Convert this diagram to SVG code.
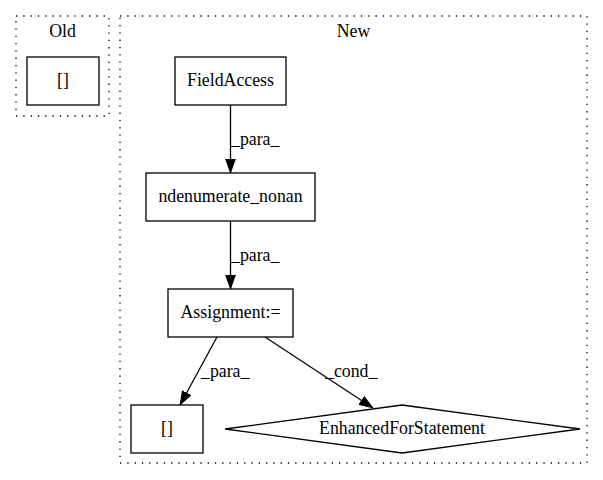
<svg xmlns="http://www.w3.org/2000/svg" width="603" height="480" viewBox="0 0 603 480">
<style>
text{font-family:"Liberation Serif","Times New Roman",serif;font-size:17.8px;fill:#000}
.c{text-anchor:middle}
.cl{fill:none;stroke:#000;stroke-width:1.3;stroke-dasharray:1.3,6}
.n{fill:#fff;stroke:#000;stroke-width:1.3}
.e{fill:none;stroke:#000;stroke-width:1.3}
</style>
<defs>
<marker id="ah" markerUnits="userSpaceOnUse" markerWidth="14" markerHeight="11" refX="13" refY="4.75" orient="auto" viewBox="0 0 13 9.5">
<path d="M0.5,0.5 L12.5,4.75 L0.5,9 Z" fill="#000" stroke="#000"/>
</marker>
</defs>
<rect width="603" height="480" fill="#fff"/>
<g id="cluster_old">
<rect class="cl" x="16" y="16" width="93" height="100"/>
<text class="c" x="62.5" y="37">Old</text>
</g>
<g id="cluster_new">
<rect class="cl" x="120" y="16" width="467" height="447"/>
<text class="c" x="353.5" y="37">New</text>
</g>
<g id="old_brackets">
<rect class="n" x="27" y="57" width="72" height="48"/>
<text class="c" x="63" y="86">[]</text>
</g>
<g id="field_access">
<rect class="n" x="175" y="57" width="111" height="48"/>
<text class="c" x="230.5" y="86">FieldAccess</text>
</g>
<g id="ndenumerate_nonan">
<rect class="n" x="146" y="173" width="169" height="48"/>
<text class="c" x="230.5" y="202">ndenumerate_nonan</text>
</g>
<g id="assignment">
<rect class="n" x="168" y="289" width="125" height="48"/>
<text class="c" x="230.5" y="318">Assignment:=</text>
</g>
<g id="new_brackets">
<rect class="n" x="131" y="405" width="72" height="48"/>
<text class="c" x="167" y="434">[]</text>
</g>
<g id="enhanced_for">
<polygon class="n" points="402,405 580,429 402,453 225,429"/>
<text class="c" x="402" y="434">EnhancedForStatement</text>
</g>
<g id="connectors">
<line class="e" x1="230.5" y1="105" x2="230.5" y2="173" marker-end="url(#ah)"/>
<text x="231" y="145">_para_</text>
<line class="e" x1="230.5" y1="221" x2="230.5" y2="289" marker-end="url(#ah)"/>
<text x="231" y="261">_para_</text>
<line class="e" x1="217" y1="337" x2="180" y2="405" marker-end="url(#ah)"/>
<text x="201" y="377">_para_</text>
<line class="e" x1="265" y1="337" x2="373" y2="408" marker-end="url(#ah)"/>
<text x="325" y="377">_cond_</text>
</g>
</svg>
